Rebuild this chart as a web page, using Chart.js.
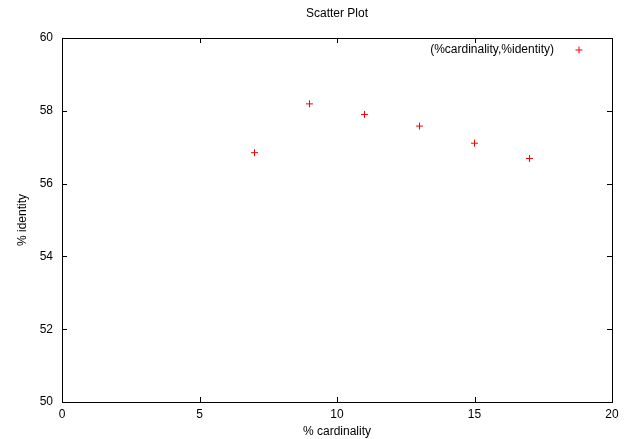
<!DOCTYPE html>
<html>
<head>
<meta charset="utf-8">
<script src="https://cdn.jsdelivr.net/npm/chart.js@4"></script>
<style>
  html, body { margin: 0; padding: 0; background: #fff; }
  #wrap { width: 635px; height: 439px; }
</style>
</head>
<body>
<div id="wrap"><canvas id="chart"></canvas></div>
<script>
const cardinality = [7, 9, 11, 13, 15, 17];
const identity = [56.85, 58.19, 57.9, 57.58, 57.11, 56.69];
const xTicks = [0, 5, 10, 15, 20];
const yTicks = [50, 52, 54, 56, 58, 60];
const seriesLabel = "(%cardinality,%identity)";

const FONT = "Liberation Sans, Arial, sans-serif";

// gnuplot style frame, inward mirror ticks, title and key
const gnuplotFrame = {
  id: "gnuplotFrame",
  afterDraw(chart) {
    const { ctx, chartArea: a, scales } = chart;
    ctx.save();
    ctx.strokeStyle = "#000";
    ctx.lineWidth = 1;
    ctx.strokeRect(Math.round(a.left) + 0.5, Math.round(a.top) + 0.5,
      Math.round(a.right - a.left), Math.round(a.bottom - a.top));
    const len = 5;
    ctx.beginPath();
    xTicks.forEach((v) => {
      const x = Math.round(scales.x.getPixelForValue(v)) + 0.5;
      ctx.moveTo(x, a.bottom); ctx.lineTo(x, a.bottom - len);
      ctx.moveTo(x, a.top); ctx.lineTo(x, a.top + len);
    });
    yTicks.forEach((v) => {
      const y = Math.round(scales.y.getPixelForValue(v)) + 0.5;
      ctx.moveTo(a.left, y); ctx.lineTo(a.left + len, y);
      ctx.moveTo(a.right, y); ctx.lineTo(a.right - len, y);
    });
    ctx.stroke();

    ctx.fillStyle = "#000";
    ctx.font = "12px " + FONT;
    ctx.textAlign = "center";
    ctx.textBaseline = "middle";
    ctx.fillText("Scatter Plot", (a.left + a.right) / 2, 14);

    // key
    ctx.textAlign = "right";
    ctx.fillText(seriesLabel, a.right - 58, a.top + 12);
    const kx = a.right - 33, ky = a.top + 12;
    ctx.strokeStyle = "#ff0000";
    ctx.beginPath();
    ctx.moveTo(kx - 3.5, ky); ctx.lineTo(kx + 3.5, ky);
    ctx.moveTo(kx, ky - 3.5); ctx.lineTo(kx, ky + 3.5);
    ctx.stroke();
    ctx.restore();
  },
};

new Chart(document.getElementById("chart"), {
  type: "scatter",
  data: {
    datasets: [
      {
        label: seriesLabel,
        data: cardinality.map((c, i) => ({ x: c, y: identity[i] })),
        pointStyle: "cross",
        pointRadius: 3.5,
        pointHoverRadius: 3.5,
        borderColor: "#ff0000",
        backgroundColor: "#ff0000",
        borderWidth: 1,
      },
    ],
  },
  options: {
    responsive: true,
    maintainAspectRatio: false,
    animation: false,
    layout: { padding: { top: 38, right: 23, left: 0, bottom: 0 } },
    plugins: {
      legend: { display: false },
      title: { display: false },
      tooltip: { enabled: false },
    },
    scales: {
      x: {
        type: "linear",
        min: 0,
        max: 20,
        afterBuildTicks: (s) => { s.ticks = xTicks.map((v) => ({ value: v })); },
        afterFit: (s) => { s.height = 37; },
        grid: { display: false, drawTicks: false },
        border: { display: false },
        ticks: { color: "#000", font: { family: FONT, size: 12 }, padding: 5 },
        title: {
          display: true,
          text: "% cardinality",
          color: "#000",
          font: { family: FONT, size: 12 },
          padding: { top: 0, bottom: 0 },
        },
      },
      y: {
        type: "linear",
        min: 50,
        max: 60,
        afterBuildTicks: (s) => { s.ticks = yTicks.map((v) => ({ value: v })); },
        afterFit: (s) => { s.width = 62; },
        grid: { display: false, drawTicks: false },
        border: { display: false },
        ticks: { color: "#000", font: { family: FONT, size: 12 }, padding: 9 },
        title: {
          display: true,
          text: "% identity",
          color: "#000",
          font: { family: FONT, size: 12 },
          padding: { top: 15, bottom: 0 },
        },
      },
    },
  },
  plugins: [gnuplotFrame],
});
</script>
</body>
</html>
